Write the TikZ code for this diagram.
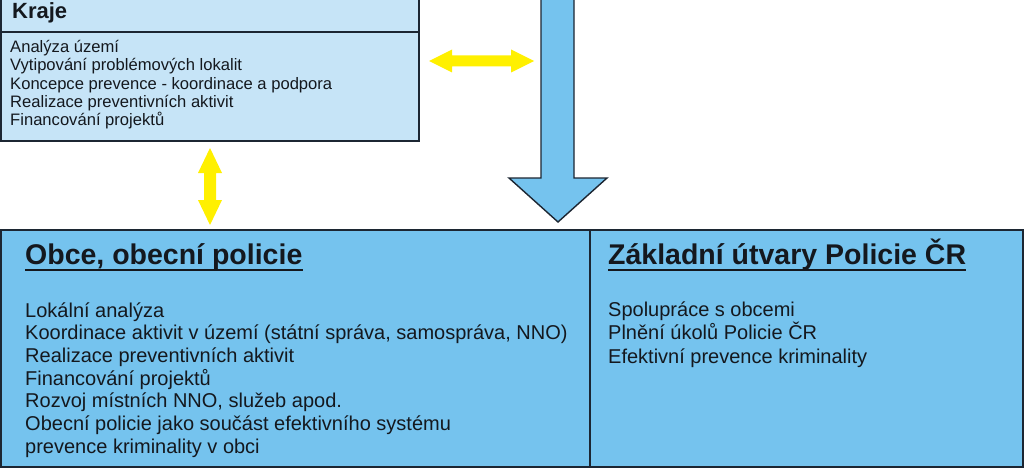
\documentclass[tikz,border=0pt]{standalone}
\usepackage{fontspec}
\setmainfont{Liberation Sans}
\definecolor{lightb}{RGB}{198,228,247}
\definecolor{midb}{RGB}{117,195,238}
\definecolor{yel}{RGB}{255,240,0}
\definecolor{edgec}{RGB}{28,38,50}
\definecolor{txt}{RGB}{20,24,30}
\begin{document}
\begin{tikzpicture}[x=1pt,y=-1pt,
  panel/.style={draw=edgec, line width=1.8pt, anchor=north west, inner sep=0, outer sep=0},
  headtext/.style={anchor=base west, inner sep=0, text=txt, font=\bfseries\fontsize{28.5}{32}\selectfont},
  listtext/.style={anchor=base west, inner sep=0, text=txt},
  yarrow/.style={fill=yel, draw=none}]
\useasboundingbox (0,0) rectangle (1024,468);
\fill[white] (0,0) rectangle (1024,468);

% Kraje panel
\node[panel, fill=lightb, line width=1.4pt, minimum width=418pt, minimum height=151pt] (kraje) at (1,-10) {};
\coordinate (kdivl) at (1,32);
\coordinate (kdivr) at (419,32);
\draw[edgec, line width=1.4pt] (kdivl) -- (kdivr);
\node[anchor=base west, inner sep=0, text=txt, font=\bfseries\fontsize{22}{26}\selectfont] (krajeh) at (12,19) {Kraje};
\node[listtext] (krajel) at (10,52.7) {\parbox[t]{400pt}{\fontsize{16.6}{18.3}\selectfont
Analýza území\\
Vytipování problémových lokalit\\
Koncepce prevence - koordinace a podpora\\
Realizace preventivních aktivit\\
Financování projektů}};

% bottom panels
\node[panel, fill=midb, minimum width=589pt, minimum height=237pt] (obce) at (1,230) {};
\node[panel, fill=midb, minimum width=433pt, minimum height=237pt] (utvary) at (590,230) {};

\node[headtext] (obceh) at (25,264) {Obce, obecní policie};
\draw[txt, line width=2pt] ([yshift=-6pt]obceh.base west) -- ([yshift=-6pt]obceh.base east);
\node[listtext] (obcel) at (25,317) {\parbox[t]{560pt}{\fontsize{20}{22.7}\selectfont
Lokální analýza\\
Koordinace aktivit v území (státní správa, samospráva, NNO)\\
Realizace preventivních aktivit\\
Financování projektů\\
Rozvoj místních NNO, služeb apod.\\
Obecní policie jako součást efektivního systému\\
prevence kriminality v obci}};

\node[headtext] (utvaryh) at (608,264) {Základní útvary Policie ČR};
\draw[txt, line width=2pt] ([yshift=-6pt]utvaryh.base west) -- ([yshift=-6pt]utvaryh.base east);
\node[listtext] (utvaryl) at (608,316) {\parbox[t]{400pt}{\fontsize{20}{23.5}\selectfont
Spolupráce s obcemi\\
Plnění úkolů Policie ČR\\
Efektivní prevence kriminality}};

% big blue arrow
\coordinate (bigtop) at (557.5,-5);
\coordinate (bigtip) at (558,222);
\draw[fill=midb, draw=edgec, line width=1.4pt, line join=miter]
  (541,-5) -- (541,178) -- (509,178) -- (bigtip) -- (607,178) -- (574,178) -- (574,-5) -- cycle;

% yellow horizontal double arrow
\coordinate (yhl) at (429,61);
\coordinate (yhr) at (534,61);
\fill[yarrow] (yhl) -- ++(23,-11.5) -- ++(0,6) -- ++(59,0) -- ++(0,-6) -- (yhr)
  -- ++(-23,11.5) -- ++(0,-6) -- ++(-59,0) -- ++(0,6) -- cycle;

% yellow vertical double arrow
\coordinate (yvt) at (210,148);
\coordinate (yvb) at (210,225);
\fill[yarrow] (yvt) -- ++(12,25) -- ++(-6,0) -- ++(0,27) -- ++(6,0) -- (yvb)
  -- ++(-12,-25) -- ++(6,0) -- ++(0,-27) -- ++(-6,0) -- cycle;
\end{tikzpicture}
\end{document}
